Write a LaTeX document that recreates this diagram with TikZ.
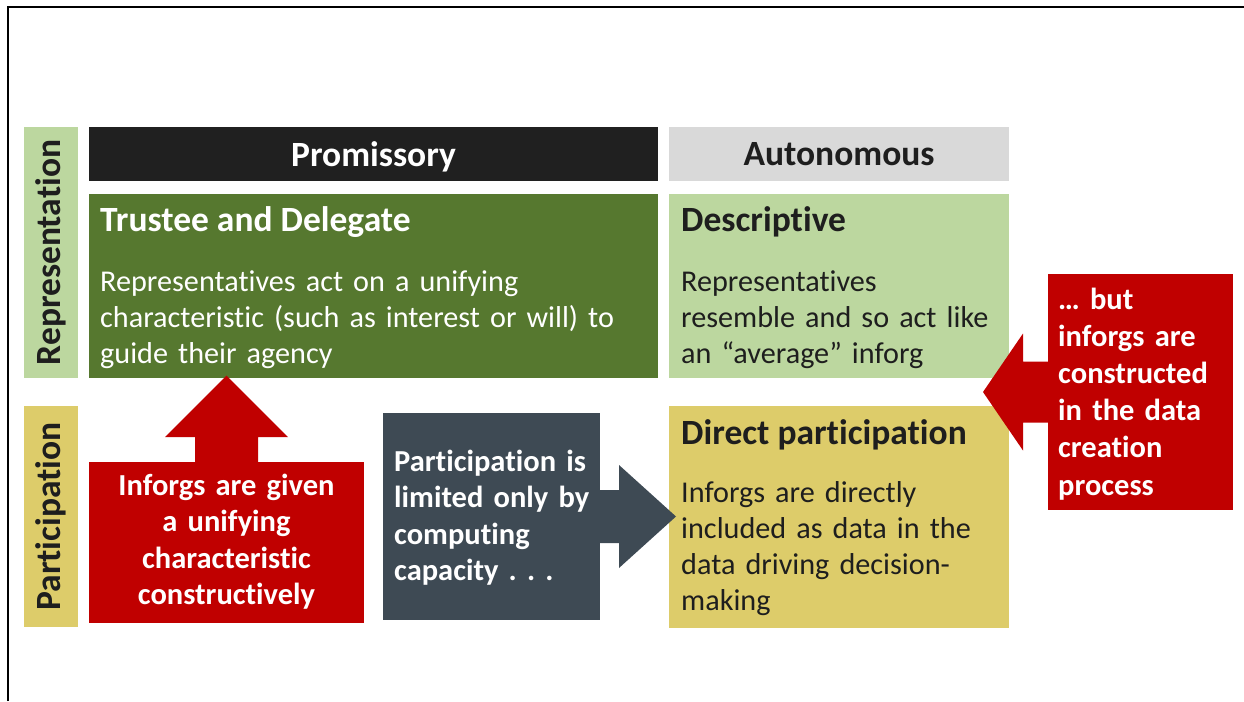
\documentclass[tikz,border=0pt]{standalone}
\usepackage{fontspec}
\setmainfont{Carlito}[Ligatures={NoCommon,NoContextual}]
\usetikzlibrary{calc}
\definecolor{hdrdark}{HTML}{202020}
\definecolor{hdrlight}{HTML}{D9D9D9}
\definecolor{dkgreen}{HTML}{56782F}
\definecolor{ltgreen}{HTML}{BCD79F}
\definecolor{ochre}{HTML}{DDCC6A}
\definecolor{deepred}{HTML}{C00000}
\definecolor{slate}{HTML}{3E4A54}
\definecolor{ink}{HTML}{1E1E1E}
\frenchspacing
\begin{document}
\begin{tikzpicture}[x=1pt,y=-1pt,
  box/.style={rectangle, inner sep=0pt, outer sep=0pt, anchor=north west, draw=none},
  hdr/.style={font=\bfseries\fontsize{35.5}{40}\selectfont, anchor=base, inner sep=0pt},
  ttl/.style={font=\bfseries\fontsize{35.5}{40}\selectfont, anchor=base west, inner sep=0pt},
  bodytxt/.style={font=\fontsize{30.2}{36}\selectfont, anchor=base west, inner sep=0pt, text width=#1, align=left},
  boldtxt/.style={font=\bfseries\fontsize{30.5}{36.6}\selectfont, inner sep=0pt, text width=#1},
  sidelabel/.style={font=\bfseries\fontsize{35.5}{40}\selectfont, rotate=90, text=ink, inner sep=0pt}
]
\useasboundingbox (0,0) rectangle (1244,701);
% frame
\coordinate (frameBL) at (8,701);
\coordinate (frameTL) at (8,7);
\coordinate (frameTR) at (1244,7);
\draw[line width=2pt] (frameBL) -- (frameTL) -- (frameTR);

% side bars
\node[box, fill=ltgreen, minimum width=54pt, minimum height=251pt] (repBar) at (24,127) {};
\node[sidelabel] (repText) at (repBar.center) {Representation};
\node[box, fill=ochre, minimum width=54pt, minimum height=221pt] (partBar) at (24,406) {};
\node[sidelabel] (partText) at (partBar.center) {Participation};

% headers
\node[box, fill=hdrdark, minimum width=569pt, minimum height=54pt] (promHead) at (89,127) {};
\node[hdr, text=white] (promText) at (373.5,166) {Promissory};
\node[box, fill=hdrlight, minimum width=340pt, minimum height=54pt] (autoHead) at (669,127) {};
\node[hdr, text=ink] (autoText) at (839,165.5) {Autonomous};

% trustee box
\node[box, fill=dkgreen, minimum width=569pt, minimum height=184pt] (trustee) at (89,194) {};
\node[ttl, text=white] (trusteeTitle) at (100,231) {Trustee and Delegate};
\node[bodytxt=550pt, text=white] (trusteeBody) at (100,291)
  {Representatives act on a unifying\\characteristic (such as interest or will) to\\guide their agency};

% descriptive box
\node[box, fill=ltgreen, minimum width=340pt, minimum height=184pt] (descr) at (669,194) {};
\node[ttl, text=ink] (descrTitle) at (681,231) {Descriptive};
\node[bodytxt=320pt, text=ink] (descrBody) at (681,291)
  {Representatives\\resemble and so act like\\an “average” inforg};

% direct participation box
\node[box, fill=ochre, minimum width=340pt, minimum height=222pt] (direct) at (669,406) {};
\node[ttl, text=ink] (directTitle) at (681,444) {Direct participation};
\node[bodytxt=320pt, text=ink] (directBody) at (681,502)
  {Inforgs are directly\\included as data in the\\data driving decision-\\making};

% red up arrow box
\node[box, fill=deepred, minimum width=275pt, minimum height=161pt] (given) at (89,462) {};
\fill[deepred, shift={(given.north)}] (-31.5,0.5) -- (-31.5,-25) -- (-61.5,-25) -- (0,-86.5) -- (61.5,-25) -- (31.5,-25) -- (31.5,0.5) -- cycle;
\node[boldtxt=270pt, align=center, anchor=base, text=white] (givenText) at (226.5,495)
  {Inforgs are given\\a unifying\\characteristic\\constructively};

% slate right arrow box
\node[box, fill=slate, minimum width=217pt, minimum height=207pt] (limited) at (383,413) {};
\fill[slate, shift={(limited.east)}] (-0.5,-26.5) -- (19,-26.5) -- (19,-51.5) -- (76,0) -- (19,51.5) -- (19,26.5) -- (-0.5,26.5) -- cycle;
\node[boldtxt=205pt, align=left, anchor=base west, text=white] (limitedText) at (394,471)
  {Participation is\\limited only by\\computing\\capacity . . .};

% red left arrow box
\node[box, fill=deepred, minimum width=185pt, minimum height=236pt] (butbox) at (1048,274) {};
\fill[deepred, shift={(butbox.west)}] (0.5,-30.5) -- (-25,-30.5) -- (-25,-58.5) -- (-65,0) -- (-25,58.5) -- (-25,30.5) -- (0.5,30.5) -- cycle;
\node[font=\bfseries\fontsize{30.5}{37.2}\selectfont, inner sep=0pt, text width=172pt, align=left, anchor=base west, text=white] (butText) at (1058,309)
  {… but\\inforgs are\\constructed\\in the data\\creation\\process};
\end{tikzpicture}
\end{document}
